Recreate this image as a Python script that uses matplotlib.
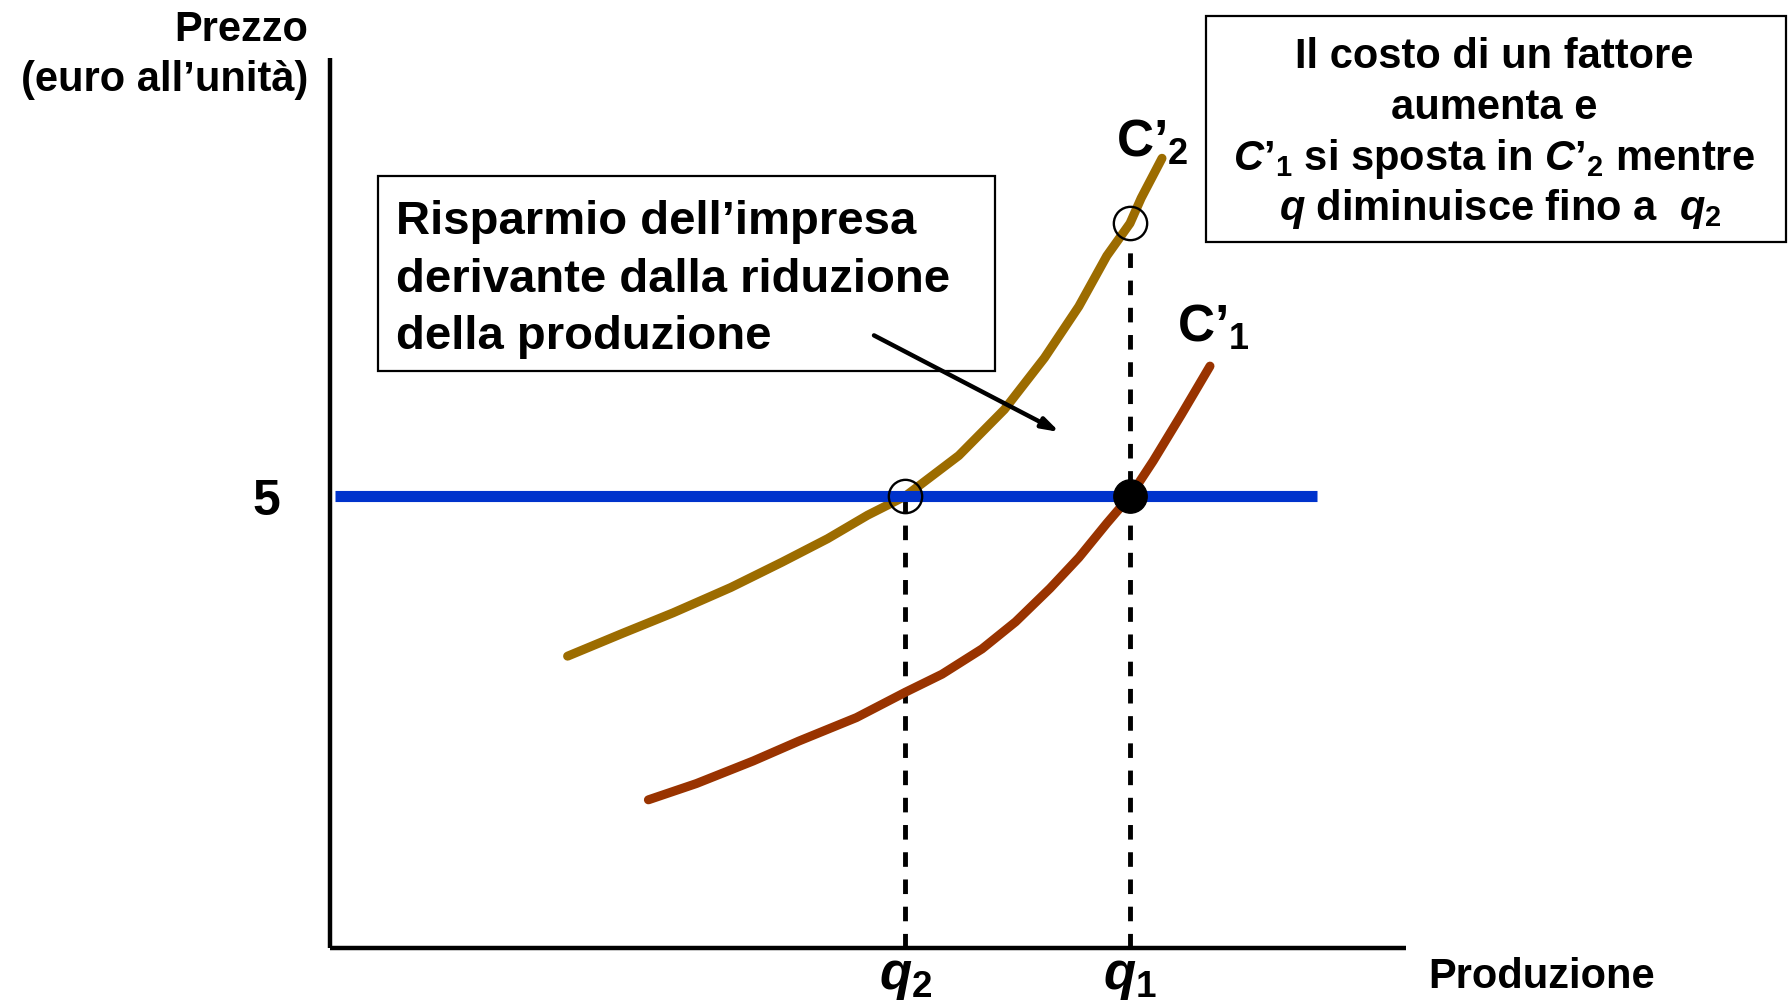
import matplotlib
matplotlib.use("Agg")
import matplotlib.pyplot as plt
from matplotlib.patches import Rectangle

plt.rcParams['font.family'] = ['Liberation Sans', 'DejaVu Sans']
plt.rcParams['font.weight'] = 'bold'
plt.rcParams['mathtext.fontset'] = 'custom'
plt.rcParams['mathtext.rm'] = 'Liberation Sans:bold'
plt.rcParams['mathtext.it'] = 'Liberation Sans:bold:italic'
plt.rcParams['mathtext.bf'] = 'Liberation Sans:bold'

# ---- data ----
price = 5.0
q2 = 7.19
q1 = 10.0
c2_x = [2.97, 3.65, 4.29, 5.01, 5.65, 6.22, 6.72, 7.19, 7.86, 8.43, 8.93, 9.36, 9.71, 10.0, 10.14, 10.40]
c2_y = [3.23, 3.48, 3.71, 3.99, 4.27, 4.53, 4.79, 5.00, 5.45, 5.96, 6.53, 7.10, 7.66, 8.02, 8.30, 8.74]
c1_x = [3.98, 4.58, 5.29, 5.86, 6.58, 7.19, 7.65, 8.15, 8.57, 9.00, 9.36, 9.71, 10.0, 10.29, 10.64, 11.0]
c1_y = [1.64, 1.82, 2.07, 2.29, 2.55, 2.83, 3.03, 3.31, 3.61, 3.98, 4.32, 4.70, 5.00, 5.39, 5.90, 6.44]
c2_at_q1 = 8.02
price_line_x = [0.06, 12.34]

W, H = 1789, 1003
fig = plt.figure(figsize=(W / 100, H / 100), dpi=100)

def P(x, y):
    return (x / W, 1 - y / H)

ax = fig.add_axes([330 / W, (H - 949) / H, (1406 - 330) / W, (949 - 59) / H])
ax.set_xlim(0, 13.45)
ax.set_ylim(0, 9.85)
for s in ['top', 'right']:
    ax.spines[s].set_visible(False)
for s in ['left', 'bottom']:
    ax.spines[s].set_linewidth(3.2)
    ax.spines[s].set_color('black')
    ax.spines[s].set_capstyle('butt')

ax.set_yticks([price])
ax.set_yticklabels(['5'], fontsize=36, fontweight='bold')
ax.tick_params(axis='y', length=0, pad=36)
ax.set_xticks([q2, q1])
ax.set_xticklabels([r'$\mathit{q}_{\mathit{2}}$', r'$\mathit{q}_{\mathit{1}}$'], fontsize=38)
ax.tick_params(axis='x', length=0, pad=2)

# curves
ax.plot(c2_x, c2_y, color='#9C6C00', lw=6.5, solid_capstyle='round', zorder=3)
ax.plot(c1_x, c1_y, color='#993300', lw=6.5, solid_capstyle='round', zorder=3)

# price line
ax.plot(price_line_x, [price, price], color='#0033CC', lw=8, solid_capstyle='butt', zorder=4)

# dashed verticals
ax.plot([q2, q2], [0, price], color='black', lw=3.5, dashes=(3.0, 2.6), zorder=2)
ax.plot([q1, q1], [0, c2_at_q1 - 0.2], color='black', lw=3.5, dashes=(3.0, 2.6), zorder=2)

# markers
ax.plot([q2, q1], [price, c2_at_q1], 'o', ms=24, mfc='none', mec='black', mew=1.7, zorder=5)
ax.plot([q1], [price], 'o', ms=24, mfc='black', mec='black', zorder=5)

# arrow
ax.annotate('', xy=(9.12, 5.71), xytext=(6.80, 6.78),
            arrowprops=dict(arrowstyle='-|>,head_length=1.0,head_width=0.32', lw=3.2, color='black',
                            shrinkA=0, shrinkB=0), zorder=6)

# axis titles
fig.text(*P(308, 41), 'Prezzo', ha='right', va='baseline', fontsize=30, fontweight='bold')
fig.text(*P(308, 91), '(euro all’unità)', ha='right', va='baseline', fontsize=30, fontweight='bold')
fig.text(*P(1428, 988), 'Produzione', ha='left', va='baseline', fontsize=30, fontweight='bold')

# curve labels
fig.text(*P(1116, 157), r'$\mathrm{C’}_{\mathrm{2}}$', ha='left', va='baseline', fontsize=37)
fig.text(*P(1177, 342), r'$\mathrm{C’}_{\mathrm{1}}$', ha='left', va='baseline', fontsize=37)

# box 1
fig.patches.append(Rectangle(P(378, 372), (995 - 378) / W, (372 - 177) / H,
                             transform=fig.transFigure, fill=False, ec='black', lw=1.6))
for txt, yb in [('Risparmio dell’impresa', 234), ('derivante dalla riduzione', 292),
                ('della produzione', 349)]:
    fig.text(*P(396, yb), txt, ha='left', va='baseline', fontsize=34, fontweight='bold')

# box 2
fig.patches.append(Rectangle(P(1206, 243), (1786 - 1206) / W, (243 - 17) / H,
                             transform=fig.transFigure, fill=False, ec='black', lw=1.6))
lines2 = ['Il costo di un fattore', 'aumenta e',
          r'$\mathit{C’}_{\mathit{1}}$ si sposta in $\mathit{C’}_{\mathit{2}}$ mentre',
          r'$\mathit{q}$ diminuisce fino a  $\mathit{q}_{\mathit{2}}$']
for txt, yb, xc in zip(lines2, [68, 119, 170, 220], [1494, 1494, 1494, 1500]):
    fig.text(*P(xc, yb), txt, ha='center', va='baseline', fontsize=30, fontweight='bold')

fig.savefig('out.png', dpi=100, facecolor='white')
